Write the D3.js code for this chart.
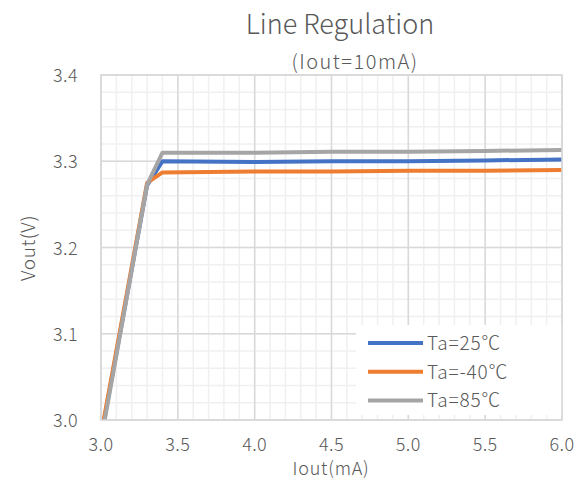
<!DOCTYPE html>
<html><head><meta charset="utf-8">
<script src="https://cdn.jsdelivr.net/npm/d3@7"></script>
<style>
body{margin:0;background:#fff;}
text{font-family:"Noto Sans CJK SC","Noto Sans",sans-serif;fill:#595959;font-weight:300;}
</style></head>
<body><svg id="c" width="581" height="480"></svg>
<script>
const vin = [3.0, 3.3, 3.4, 4.0, 4.5, 5.0, 5.5, 6.0];
const vout25 = [2.980, 3.272, 3.300, 3.299, 3.300, 3.300, 3.301, 3.302];
const voutM40 = [2.983, 3.275, 3.287, 3.288, 3.288, 3.289, 3.289, 3.290];
const vout85 = [2.976, 3.273, 3.310, 3.310, 3.311, 3.311, 3.312, 3.313];
const seriesNames = ["Ta=25℃", "Ta=-40℃", "Ta=85℃"];
const colors = ["#4472C4", "#ED7D31", "#A5A5A5"];
const xTicks = [3.0, 3.5, 4.0, 4.5, 5.0, 5.5, 6.0];
const yTicks = [3.0, 3.1, 3.2, 3.3, 3.4];

const svg = d3.select("#c");
const L = 101, R = 562, T = 75, B = 420;
const x = d3.scaleLinear().domain([3.0, 6.0]).range([L, R]);
const y = d3.scaleLinear().domain([3.0, 3.4]).range([B, T]);

// minor grid
const g = svg.append("g");
g.selectAll(".mx").data(d3.range(0, 31).map(i => 3 + i * 0.1)).enter().append("line")
  .attr("x1", d => x(d)).attr("x2", d => x(d)).attr("y1", T).attr("y2", B)
  .attr("stroke", "#f0f0f0").attr("stroke-width", 1.5);
g.selectAll(".my").data(d3.range(0, 21).map(i => 3 + i * 0.02)).enter().append("line")
  .attr("y1", d => y(d)).attr("y2", d => y(d)).attr("x1", L).attr("x2", R)
  .attr("stroke", "#f0f0f0").attr("stroke-width", 1.5);
// major grid
g.selectAll(".Mx").data(xTicks).enter().append("line")
  .attr("x1", d => x(d)).attr("x2", d => x(d)).attr("y1", T).attr("y2", B)
  .attr("stroke", "#d9d9d9").attr("stroke-width", 1.5);
g.selectAll(".My").data(yTicks).enter().append("line")
  .attr("y1", d => y(d)).attr("y2", d => y(d)).attr("x1", L).attr("x2", R)
  .attr("stroke", "#d9d9d9").attr("stroke-width", 1.5);

// clip
svg.append("clipPath").attr("id", "clip").append("rect")
  .attr("x", L).attr("y", T).attr("width", R - L).attr("height", B - T);

const line = d3.line().x(d => x(d[0])).y(d => y(d[1]));
const data = [vout25, voutM40, vout85].map(s => vin.map((v, i) => [v, s[i]]));
svg.append("g").attr("clip-path", "url(#clip)").selectAll("path").data(data).enter().append("path")
  .attr("d", line).attr("fill", "none")
  .attr("stroke", (d, i) => colors[i]).attr("stroke-width", 4).attr("stroke-linejoin", "round");

// axes labels
svg.selectAll(".xt").data(xTicks).enter().append("text")
  .attr("x", d => x(d)).attr("y", 451).attr("text-anchor", "middle")
  .attr("font-size", 18).attr("letter-spacing", 0.4).text(d => d.toFixed(1));
svg.selectAll(".yt").data(yTicks).enter().append("text")
  .attr("x", 78).attr("y", d => y(d) + 7).attr("text-anchor", "end")
  .attr("font-size", 18).attr("letter-spacing", 0.4).text(d => d.toFixed(1));

// legend
const lg = svg.append("g");
lg.append("rect").attr("x", 356).attr("y", 325).attr("width", 206).attr("height", 90).attr("fill", "#fff");
seriesNames.forEach((n, i) => {
  const yy = 343 + i * 28.7;
  lg.append("line").attr("x1", 368).attr("x2", 423).attr("y1", yy).attr("y2", yy)
    .attr("stroke", colors[i]).attr("stroke-width", 4);
  lg.append("text").attr("x", 427).attr("y", yy + 7).attr("font-size", 19)
    .attr("letter-spacing", 0.8).text(n);
});

// plot border
svg.append("rect").attr("x", L).attr("y", T).attr("width", R - L).attr("height", B - T)
  .attr("fill", "none").attr("stroke", "#d9d9d9").attr("stroke-width", 1.5);

// titles
svg.append("text").attr("x", 340).attr("y", 34).attr("text-anchor", "middle")
  .attr("font-size", 27).text("Line Regulation");
svg.append("text").attr("x", 355).attr("y", 69).attr("text-anchor", "middle")
  .attr("font-size", 20).attr("letter-spacing", 1.5).text("(Iout=10mA)");
svg.append("text").attr("x", 331).attr("y", 475).attr("text-anchor", "middle")
  .attr("font-size", 18).attr("letter-spacing", 0.8).text("Iout(mA)");
svg.append("text").attr("transform", "translate(35,248) rotate(-90)").attr("text-anchor", "middle")
  .attr("font-size", 19).attr("letter-spacing", 0.6).text("Vout(V)");
</script></body></html>
